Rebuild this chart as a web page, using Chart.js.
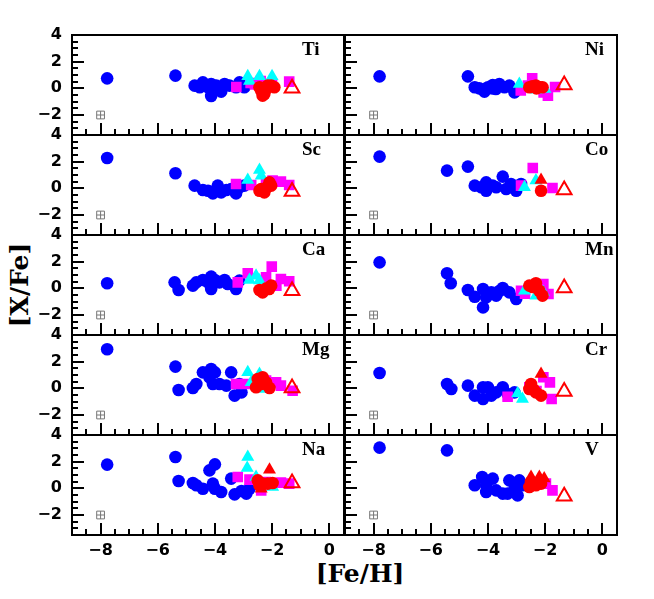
<!DOCTYPE html>
<html lang="en">
<head>
    <meta charset="UTF-8">
    <title>[X/Fe] vs [Fe/H]</title>
    <script src="https://cdn.jsdelivr.net/npm/chart.js"></script>
    <style>
        body {
            margin: 0;
            background-color: #ffffff;
        }
        #wrap {
            position: relative;
            width: 654px;
            height: 599px;
            overflow: hidden;
            background: #ffffff;
        }
        #wrap canvas {
            position: absolute;
        }
        .elem {
            position: absolute;
            font-family: 'Liberation Serif', serif;
            font-weight: bold;
            font-size: 19px;
            line-height: 19px;
            color: #000;
        }
        .axis-title {
            position: absolute;
            font-family: 'DejaVu Serif', serif;
            font-weight: bold;
            font-size: 25px;
            line-height: 25px;
            color: #000;
            white-space: nowrap;
        }
        #xTitle {
            left: 360px;
            top: 561px;
            transform: translateX(-50%);
        }
        #yTitle {
            left: 19px;
            top: 285px;
            transform: translate(-50%, -50%) rotate(-90deg);
        }
    </style>
</head>
<body>
    <div id="wrap">
        <div id="xTitle" class="axis-title">[Fe/H]</div>
        <div id="yTitle" class="axis-title">[X/Fe]</div>
    </div>

    <script>
        // panels, left to right then top to bottom
        const elements = ['Ti', 'Ni', 'Sc', 'Co', 'Ca', 'Mn', 'Mg', 'Cr', 'Na', 'V'];

        const xRange = [-9, 0.5];
        const yRange = [-3.5, 4];
        const xMajorTicks = [-8, -6, -4, -2, 0];
        const yMajorTicks = [-2, 0, 2, 4];
        const errorBar = [-8, -2];

        // [Fe/H], [X/Fe] per panel
        const blueStars = [
            [[-7.77,0.75],[-5.38,0.95],[-4.71,0.2],[-4.53,0.08],[-4.42,0.45],[-4.24,0.08],[-4.13,0.33],[-4.13,-0.58],[-3.95,0.2],[-3.78,-0.25],[-3.66,0.33],[-3.49,0.2],[-3.26,0.08],[-3.14,0.45],[-2.97,0.08]],
            [[-7.79,0.9],[-4.70,0.9],[-4.46,0.08],[-4.3,0.0],[-4.17,-0.1],[-4.12,-0.25],[-4.0,0.08],[-3.85,0.0],[-3.83,0.25],[-3.72,-0.05],[-3.6,0.33],[-3.42,0.08],[-3.25,0.2],[-3.07,-0.3]],
            [[-7.77,2.28],[-5.38,1.13],[-4.71,0.2],[-4.42,-0.13],[-4.24,-0.18],[-4.07,-0.38],[-3.9,0.2],[-3.78,-0.3],[-3.6,-0.13],[-3.43,-0.05],[-3.26,-0.38],[-3.14,0.08],[-2.97,0.2]],
            [[-7.79,2.38],[-5.43,1.33],[-4.70,1.63],[-4.46,0.2],[-4.23,0.08],[-4.06,0.45],[-4.06,-0.18],[-3.83,0.2],[-3.71,0.08],[-3.48,0.88],[-3.36,-0.05],[-3.19,0.33],[-3.01,-0.18],[-2.84,0.33]],
            [[-7.77,0.38],[-5.41,0.45],[-5.27,-0.13],[-4.77,0.2],[-4.65,0.45],[-4.42,0.63],[-4.24,0.45],[-4.13,0.88],[-4.13,-0.05],[-4.0,0.63],[-3.84,0.45],[-3.66,0.63],[-3.55,0.33],[-3.26,-0.05],[-3.14,0.58]],
            [[-7.79,1.95],[-5.43,1.13],[-5.30,0.38],[-4.70,-0.13],[-4.46,-0.63],[-4.17,-0.05],[-4.17,-1.43],[-4.06,-0.68],[-3.88,-0.3],[-3.71,-0.55],[-3.6,-0.2],[-3.48,0.03],[-3.25,-0.3],[-3.01,-0.8]],
            [[-7.77,2.93],[-5.38,1.63],[-5.27,-0.13],[-4.77,0.03],[-4.65,0.33],[-4.42,1.2],[-4.19,0.83],[-4.13,1.45],[-4.07,0.33],[-4.0,1.2],[-3.84,0.33],[-3.6,0.2],[-3.43,1.2],[-3.31,-0.55],[-3.14,0.33],[-3.07,-0.3]],
            [[-7.79,1.15],[-5.43,0.33],[-5.28,-0.05],[-4.70,0.2],[-4.46,-0.55],[-4.17,0.08],[-4.17,-0.8],[-4.0,0.08],[-3.88,-0.55],[-3.71,-0.3],[-3.48,0.08],[-3.31,-0.43],[-3.07,-0.3]],
            [[-7.77,1.78],[-5.38,2.35],[-5.27,0.55],[-4.77,0.4],[-4.65,0.23],[-4.42,-0.03],[-4.19,1.35],[-4.07,0.35],[-4.0,1.8],[-4.0,-0.03],[-3.78,-0.28],[-3.43,0.73],[-3.31,-0.45],[-3.07,-0.2],[-2.9,-0.4],[-2.79,-0.03]],
            [[-7.79,3.05],[-5.43,2.85],[-4.46,0.23],[-4.2,0.85],[-4.06,0.23],[-4.06,-0.28],[-3.83,0.73],[-3.71,-0.15],[-3.48,-0.4],[-3.31,-0.4],[-3.25,0.6],[-3.07,-0.03],[-2.96,-0.53],[-2.9,0.6],[-2.79,0.23]]
        ];

        const magentaStars = [
            [[-3.25,0.1],[-2.75,0.4],[-2.6,0.3],[-2.4,0.55],[-2.0,0.35],[-1.4,0.5]],
            [[-2.85,-0.15],[-2.6,0.2],[-2.45,0.75],[-2.2,0.0],[-2.05,-0.3],[-1.9,-0.55],[-1.65,0.1]],
            [[-3.26,0.33],[-2.73,0.25],[-2.21,0.45],[-1.98,0.58],[-1.69,0.5],[-1.40,0.25]],
            [[-2.84,0.2],[-2.43,1.53],[-1.74,0.03]],
            [[-3.2,0.45],[-2.85,1.13],[-2.21,0.83],[-2.01,1.63],[-1.85,0.2],[-1.69,0.7],[-1.40,0.53]],
            [[-2.84,-0.18],[-2.7,-0.4],[-2.06,0.33],[-1.88,-0.43]],
            [[-3.26,0.33],[-2.91,0.33],[-2.21,0.58],[-1.86,0.45],[-1.69,0.2],[-1.28,-0.18]],
            [[-3.31,-0.63],[-2.55,0.08],[-2.3,-0.2],[-2.06,0.83],[-1.83,0.45],[-1.77,-0.8]],
            [[-3.2,0.85],[-2.79,0.65],[-2.38,-0.15],[-2.21,0.48],[-1.69,0.43],[-1.40,0.35]],
            [[-1.97,0.35],[-1.74,-0.15]]
        ];

        const cyanStars = [
            [[-2.85,0.9],[-2.79,0.55],[-2.44,0.9],[-2.0,0.9]],
            [[-2.9,0.33],[-2.3,-0.1],[-2.0,-0.05]],
            [[-2.85,0.63],[-2.44,1.38],[-2.38,0.95]],
            [[-2.72,0.08],[-2.32,0.58]],
            [[-2.79,0.63],[-2.56,0.95],[-2.44,0.58]],
            [[-2.72,-0.18],[-2.32,-0.55],[-2.06,-0.3]],
            [[-2.85,1.2],[-2.73,0.45],[-2.44,1.08],[-2.33,-0.05]],
            [[-2.96,-0.38],[-2.79,-0.8]],
            [[-2.85,2.35],[-2.87,1.53],[-2.56,0.85],[-2.44,0.48],[-1.98,0.1]],
            []
        ];

        const redStars = [
            [[-2.44,0.08],[-2.38,-0.18],[-2.33,-0.55],[-2.27,-0.43],[-2.21,-0.05],[-2.15,0.2],[-2.03,0.2],[-1.92,0.08]],
            [[-2.55,0.08],[-2.45,0.15],[-2.32,0.2],[-2.3,0.0],[-2.2,0.1],[-2.09,0.08]],
            [[-2.44,-0.18],[-2.38,-0.05],[-2.27,-0.3],[-2.2,0.05],[-2.09,0.45],[-2.03,0.2]],
            [[-2.14,-0.18]],
            [[-2.44,-0.13],[-2.33,-0.3],[-2.2,0.0],[-2.1,-0.05],[-2.03,0.2]],
            [[-2.55,0.2],[-2.43,0.1],[-2.32,0.38],[-2.2,-0.18],[-2.09,-0.55]],
            [[-2.56,0.08],[-2.5,0.7],[-2.38,0.33],[-2.33,0.83],[-2.21,0.45],[-2.09,0.03]],
            [[-2.55,-0.05],[-2.49,0.33],[-2.4,-0.1],[-2.32,-0.3],[-2.14,-0.55]],
            [[-2.5,0.6],[-2.44,0.23],[-2.33,0.35],[-2.15,0.35],[-1.98,0.4]],
            [[-2.55,0.1],[-2.49,0.48],[-2.32,0.23],[-2.14,0.35]]
        ];

        const redTriangles = [
            [], [], [],
            [[-2.14,0.63]],
            [], [], [],
            [[-2.14,1.08]],
            [[-2.09,1.4],[-2.38,-0.03]],
            [[-2.49,0.85],[-2.2,0.85],[-2.03,0.73]]
        ];

        const openTriangle = [
            [-1.30,0.0], [-1.33,0.25], [-1.30,-0.23], [-1.33,-0.13], [-1.30,-0.18],
            [-1.33,0.03], [-1.30,0.03], [-1.33,-0.23], [-1.30,0.4], [-1.33,-0.6]
        ];

        const wrap = document.getElementById('wrap');
        const PLOT_W = 272, PLOT_H = 100;
        const PAD_L = 60, PAD_T = 40, PAD_R = 10, PAD_B = 35;
        const COL_X = [72, 345];
        const ROW_Y = 35;

        const minus = v => (v < 0 ? '\u2212' + Math.abs(v) : String(v));

        function halfSteps(from, to) {
            const out = [];
            for (let v = from; v <= to + 1e-9; v += 0.5) out.push(Math.round(v * 10) / 10);
            return out;
        }
        const xMinorTicks = halfSteps(-8.5, 0);
        const yMinorTicks = halfSteps(-3, 3.5);

        // kind: 'major' | 'minor' | 'frame' (frame = border only, no ticks)
        function makeScale(axis, position, tickValues, kind, showLabels) {
            const isX = axis === 'x';
            const range = isX ? xRange : yRange;
            const major = kind === 'major';
            const size = major && position === 'left' ? PAD_L : major && position === 'bottom' ? PAD_B : 0;
            return {
                type: 'linear',
                axis: axis,
                position: position,
                min: range[0],
                max: range[1],
                weight: major ? 1 : 0,
                afterBuildTicks: s => { s.ticks = tickValues.map(v => ({ value: v })); },
                afterFit: s => { if (isX) s.height = size; else s.width = size; },
                grid: {
                    drawOnChartArea: false,
                    drawTicks: kind !== 'frame',
                    tickLength: major ? -12 : -6,
                    color: '#000',
                    lineWidth: 2
                },
                border: { display: true, color: '#000', width: 2 },
                ticks: {
                    display: showLabels,
                    autoSkip: false,
                    maxRotation: 0,
                    padding: isX ? 18 : 22,
                    color: '#000',
                    font: { family: 'DejaVu Sans', weight: 'bold', size: 16 },
                    callback: v => minus(v)
                }
            };
        }

        function pts(list) {
            return list.map(p => ({ x: p[0], y: p[1] }));
        }

        function series(list, style) {
            return Object.assign({ data: pts(list), xAxisID: 'x', yAxisID: 'y', showLine: false }, style);
        }

        elements.forEach((el, i) => {
            const col = i % 2;
            const row = Math.floor(i / 2);
            const left = COL_X[col];
            const top = ROW_Y + row * PLOT_H;

            const canvas = document.createElement('canvas');
            canvas.width = PAD_L + PLOT_W + PAD_R;
            canvas.height = PAD_T + PLOT_H + PAD_B;
            canvas.style.left = (left - PAD_L) + 'px';
            canvas.style.top = (top - PAD_T) + 'px';
            wrap.appendChild(canvas);

            const label = document.createElement('div');
            label.className = 'elem';
            label.textContent = el;
            label.style.left = (col === 0 ? 302 : 585) + 'px';
            label.style.top = (top + 4) + 'px';
            wrap.appendChild(label);

            const bottomRow = row === 4;

            new Chart(canvas, {
                type: 'scatter',
                data: {
                    datasets: [
                        series([errorBar], { pointStyle: 'cross', pointRadius: 3.9, pointBorderColor: '#777', pointBorderWidth: 1 }),
                        series([errorBar], { pointStyle: 'rect', pointRadius: 5.5, pointBackgroundColor: 'rgba(0,0,0,0)', pointBorderColor: '#777', pointBorderWidth: 1 }),
                        series([openTriangle[i]], { pointStyle: 'triangle', pointRadius: 8.5, pointBackgroundColor: 'rgba(0,0,0,0)', pointBorderColor: '#ff0000', pointBorderWidth: 2 }),
                        series(redTriangles[i], { pointStyle: 'triangle', pointRadius: 7.5, pointBackgroundColor: '#ff0000', pointBorderWidth: 0 }),
                        series(redStars[i], { pointStyle: 'circle', pointRadius: 6.3, pointBackgroundColor: '#ff0000', pointBorderWidth: 0 }),
                        series(cyanStars[i], { pointStyle: 'triangle', pointRadius: 7.5, pointBackgroundColor: '#00ffff', pointBorderWidth: 0 }),
                        series(magentaStars[i], { pointStyle: 'rect', pointRadius: 7.5, pointBackgroundColor: '#ff00ff', pointBorderWidth: 0 }),
                        series(blueStars[i], { pointStyle: 'circle', pointRadius: 6.3, pointBackgroundColor: '#0000ff', pointBorderWidth: 0 })
                    ]
                },
                options: {
                    responsive: false,
                    animation: false,
                    events: [],
                    layout: { padding: { left: 0, top: PAD_T, right: PAD_R, bottom: 0 } },
                    plugins: { legend: { display: false }, tooltip: { enabled: false } },
                    scales: {
                        x: makeScale('x', 'bottom', xMajorTicks, 'major', bottomRow),
                        xMinor: makeScale('x', 'bottom', xMinorTicks, 'minor', false),
                        xTop: makeScale('x', 'top', xMajorTicks, 'frame', false),
                        y: makeScale('y', 'left', yMajorTicks, 'major', col === 0),
                        yMinor: makeScale('y', 'left', yMinorTicks, 'minor', false),
                        yRight: makeScale('y', 'right', yMajorTicks, 'frame', false)
                    }
                }
            });
        });
    </script>
</body>
</html>
